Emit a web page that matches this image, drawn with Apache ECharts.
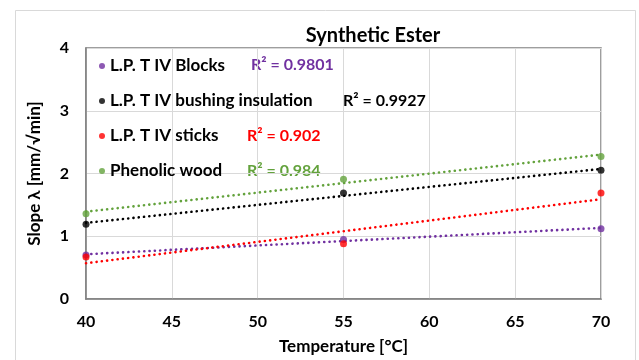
<!DOCTYPE html>
<html>
<head>
<meta charset="utf-8">
<script src="https://cdn.jsdelivr.net/npm/echarts@6/dist/echarts.min.js"></script>
<style>
  html, body { margin: 0; padding: 0; background: #fff; }
  #main { width: 639px; height: 360px; }
</style>
</head>
<body>
<div id="main"></div>
<script>
// temperatures [°C] and slopes λ [mm/√min]
var temps = [40, 55, 70];
var blocks = [0.70, 0.95, 1.12];
var bushing = [1.19, 1.69, 2.05];
var sticks = [0.67, 0.88, 1.69];
var phenolic = [1.36, 1.91, 2.27];

var names = ['L.P. T IV Blocks', 'L.P. T IV bushing insulation', 'L.P. T IV sticks', 'Phenolic wood'];
var r2Labels = ['R² = 0.9801', 'R² = 0.9927', 'R² = 0.902', 'R² = 0.984'];
var colors = ['#7030A0', '#000000', '#FF0000', '#63A23C'];
var xTicks = { min: 40, max: 70, step: 5 };
var yTicks = { min: 0, max: 4, step: 1 };

var allSeries = [blocks, bushing, sticks, phenolic];
var font = 'Lato, "Open Sans", sans-serif';

// least squares fit, like the excel trendline
function trend(xs, ys) {
    var n = xs.length, sx = 0, sy = 0, sxx = 0, sxy = 0;
    for (var i = 0; i < n; i++) {
        sx += xs[i]; sy += ys[i];
        sxx += xs[i] * xs[i]; sxy += xs[i] * ys[i];
    }
    var b = (n * sxy - sx * sy) / (n * sxx - sx * sx);
    var a = (sy - b * sx) / n;
    return [[xTicks.min, a + b * xTicks.min], [xTicks.max, a + b * xTicks.max]];
}

var series = [];
allSeries.forEach(function (ys, k) {
    series.push({
        name: names[k] + ' trend',
        type: 'line',
        data: trend(temps, ys),
        showSymbol: false,
        silent: true,
        lineStyle: { color: colors[k], width: 2.6, type: [0.1, 5.2], cap: 'round' },
        z: 2
    });
});
allSeries.forEach(function (ys, k) {
    series.push({
        name: names[k],
        type: 'scatter',
        data: temps.map(function (t, i) { return [t, ys[i]]; }),
        symbolSize: 7,
        itemStyle: { color: colors[k] },
        z: 3
    });
});

// R² labels next to the legend rows
var r2Pos = [[251, 57], [343, 93], [247, 128], [247, 163]];
var graphics = r2Labels.map(function (t, k) {
    return {
        type: 'text', left: r2Pos[k][0], top: r2Pos[k][1],
        style: { text: t, fill: colors[k], font: 'bold 16px ' + font }
    };
});
graphics.push({
    type: 'rect', left: 13, top: 8,
    shape: { width: 620, height: 360 },
    style: { fill: 'none', stroke: '#d9d9d9', lineWidth: 1 },
    silent: true
});

var myChart = echarts.init(document.getElementById('main'));
var option = {
    backgroundColor: '#fff',
    animation: false,
    title: {
        text: 'Synthetic Ester',
        left: 368,
        top: 21,
        textAlign: 'center',
        textStyle: { fontFamily: font, fontWeight: 'bold', fontSize: 20, color: '#000' }
    },
    legend: {
        data: names,
        orient: 'vertical',
        left: 99,
        top: 57,
        padding: 0,
        itemGap: 17,
        icon: 'circle',
        itemWidth: 6,
        itemHeight: 6,
        textStyle: { fontFamily: font, fontWeight: 'bold', fontSize: 17, color: '#000', lineHeight: 18 }
    },
    grid: {
        left: 86, right: 38, top: 48, bottom: 60,
        show: true, borderColor: '#7f7f7f', borderWidth: 1.5
    },
    xAxis: {
        type: 'value',
        min: xTicks.min, max: xTicks.max, interval: xTicks.step,
        name: 'Temperature [°C]',
        nameLocation: 'middle',
        nameGap: 39,
        nameTextStyle: { fontFamily: font, fontWeight: 'bold', fontSize: 17, color: '#000' },
        axisLine: { lineStyle: { color: '#7f7f7f', width: 1.5 } },
        axisTick: { show: false },
        axisLabel: { margin: 15, fontFamily: font, fontWeight: 'bold', fontSize: 16, color: '#000' },
        splitLine: { lineStyle: { color: '#d9d9d9' } }
    },
    yAxis: {
        type: 'value',
        min: yTicks.min, max: yTicks.max, interval: yTicks.step,
        name: 'Slope λ [mm/√min]',
        nameLocation: 'middle',
        nameGap: 43,
        nameTextStyle: { fontFamily: font, fontWeight: 'bold', fontSize: 17, color: '#000' },
        axisLine: { show: true, lineStyle: { color: '#7f7f7f', width: 1.5 } },
        axisTick: { show: false },
        axisLabel: { margin: 17, fontFamily: font, fontWeight: 'bold', fontSize: 16, color: '#000' },
        splitLine: { lineStyle: { color: '#d9d9d9' } }
    },
    graphic: graphics,
    series: series
};
myChart.setOption(option);
</script>
</body>
</html>
